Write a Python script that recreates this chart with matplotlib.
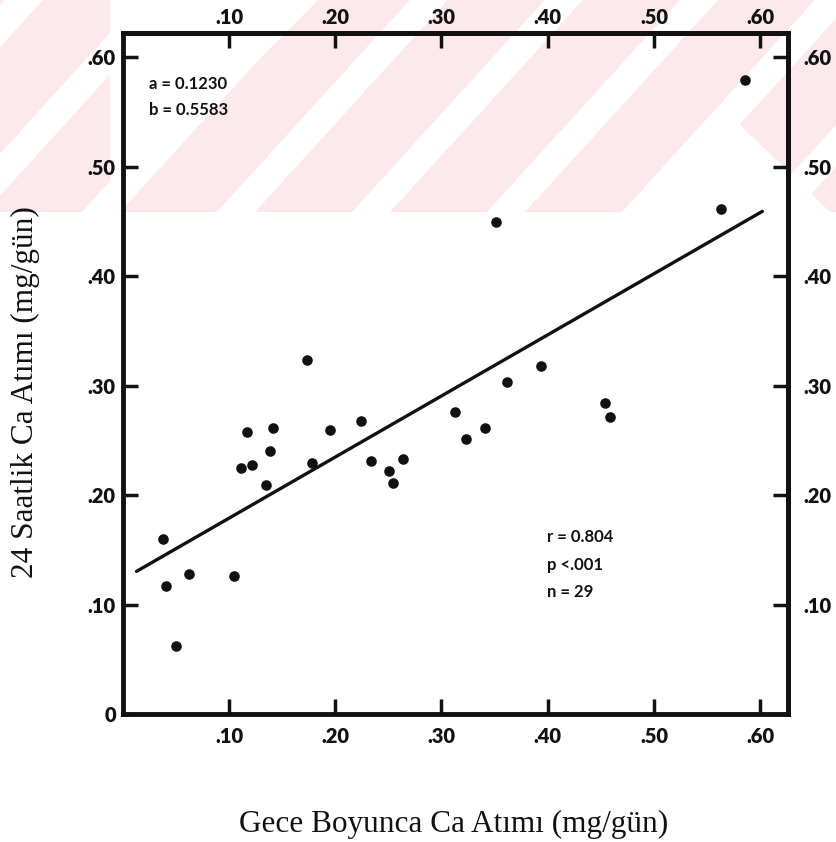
"""
Gece boyunca ve 24 saatlik Ca atimi arasindaki iliski: sacilim grafigi
ve regresyon dogrusu (y = a + b x).
"""

import matplotlib.pyplot as plt
from matplotlib.patches import Polygon, Rectangle

# --- veri --------------------------------------------------------------
night_ca = [0.038, 0.041, 0.050, 0.062, 0.105, 0.111, 0.122, 0.117, 0.135,
            0.139, 0.141, 0.173, 0.178, 0.195, 0.224, 0.234, 0.251, 0.254,
            0.264, 0.313, 0.323, 0.341, 0.351, 0.362, 0.394, 0.454, 0.459,
            0.563, 0.586]
day_ca = [0.160, 0.117, 0.062, 0.128, 0.126, 0.225, 0.227, 0.258, 0.209,
          0.240, 0.261, 0.323, 0.229, 0.259, 0.268, 0.231, 0.222, 0.211,
          0.233, 0.276, 0.251, 0.261, 0.449, 0.303, 0.318, 0.284, 0.271,
          0.461, 0.579]

intercept_a = 0.1230
slope_b = 0.5583
line_range = [0.013, 0.602]
stats_text = ["r = 0.804", "p <.001", "n = 29"]

x_ticks = [0.10, 0.20, 0.30, 0.40, 0.50, 0.60]
x_tick_labels = [".10", ".20", ".30", ".40", ".50", ".60"]
y_ticks_left = [0.0, 0.10, 0.20, 0.30, 0.40, 0.50, 0.60]
y_tick_labels_left = ["0", ".10", ".20", ".30", ".40", ".50", ".60"]
y_ticks_right = [0.10, 0.20, 0.30, 0.40, 0.50, 0.60]
y_tick_labels_right = [".10", ".20", ".30", ".40", ".50", ".60"]

x_label = "Gece Boyunca Ca Atımı (mg/gün)"
y_label = "24 Saatlik Ca Atımı (mg/gün)"

# --- stil --------------------------------------------------------------
W, H = 837, 842
INK = "#111111"
PINK = "#fde9ec"
SPINE_LW = 3.5
TICK_KW = dict(direction="in", length=11, width=2.5, color=INK,
               labelcolor=INK)
TICK_FONT = dict(family="Lato", weight="heavy", size=14.5)
NOTE_FONT = dict(family="Lato", weight="bold", size=12)
LABEL_FONT = dict(family="Liberation Serif", size=22.5)


def draw_background(fig):
    """Light pink diagonal band across the top of the page."""
    bg = fig.add_axes([0, 0, 1, 1], zorder=0)
    bg.set_xlim(0, W)
    bg.set_ylim(H, 0)
    bg.axis("off")
    band = 212
    bg.add_patch(Rectangle((0, 0), W, band, facecolor=PINK,
                           edgecolor="none"))
    lean = 0.91 * band
    for k in range(-2, 7):
        x0 = 82 + 135 * k
        bg.add_patch(Polygon([(x0, band), (x0 + 38, band),
                              (x0 + 38 + lean, 0), (x0 + lean, 0)],
                             facecolor="white", edgecolor="none"))
    bg.add_patch(Polygon([(110, 0), (318, 0), (110, 210)],
                         facecolor="white", edgecolor="none"))
    bg.add_patch(Polygon([(633, band), (730, 115), (830, band)],
                         facecolor="white", edgecolor="none"))


def main():
    fig = plt.figure(figsize=(W / 100, H / 100), dpi=100)
    draw_background(fig)

    ax = fig.add_axes([122.7 / W, 1 - 714 / H, 665.6 / W, 681 / H],
                      zorder=1)
    ax.set_facecolor("none")
    ax.set_xlim(0, 0.6264)
    ax.set_ylim(0, 0.622)

    ax.scatter(night_ca, day_ca, s=58, color=INK, zorder=3, linewidths=0)
    line_y = [intercept_a + slope_b * x for x in line_range]
    ax.plot(line_range, line_y, color=INK, lw=2.4, solid_capstyle="round",
            zorder=2)

    for spine in ax.spines.values():
        spine.set_linewidth(SPINE_LW)
        spine.set_color(INK)

    ax.set_xticks(x_ticks, labels=x_tick_labels, **TICK_FONT)
    ax.set_yticks(y_ticks_left, labels=y_tick_labels_left, **TICK_FONT)
    ax.tick_params(axis="x", pad=9.5, top=False, **TICK_KW)
    ax.tick_params(axis="y", pad=5, right=False, **TICK_KW)

    top = ax.secondary_xaxis("top")
    top.set_xticks(x_ticks, labels=x_tick_labels, **TICK_FONT)
    top.tick_params(pad=4.5, **TICK_KW)
    right = ax.secondary_yaxis("right")
    right.set_yticks(y_ticks_right, labels=y_tick_labels_right, **TICK_FONT)
    right.tick_params(pad=11, **TICK_KW)
    for sec in (top, right):
        for spine in sec.spines.values():
            spine.set_linewidth(SPINE_LW)
            spine.set_color(INK)

    # regresyon katsayilari ve istatistikler
    ax.text(0.025, 0.5754, f"a = {intercept_a:.4f}", ha="left", va="center",
            color=INK, **NOTE_FONT)
    ax.text(0.025, 0.5517, f"b = {slope_b:.4f}", ha="left", va="center",
            color=INK, **NOTE_FONT)
    for i, line in enumerate(stats_text):
        ax.text(0.399, 0.1616 - i * 0.0252, line, ha="left", va="center",
                color=INK, **NOTE_FONT)

    fig.text(454 / W, 1 - 824 / H, x_label, ha="center", va="center",
             color=INK, **LABEL_FONT)
    fig.text(25 / W, 1 - 392 / H, y_label, ha="center", va="center",
             rotation=90, color=INK, **LABEL_FONT)

    fig.savefig("out.png", dpi=100, facecolor="white")
    plt.close(fig)


if __name__ == "__main__":
    main()
